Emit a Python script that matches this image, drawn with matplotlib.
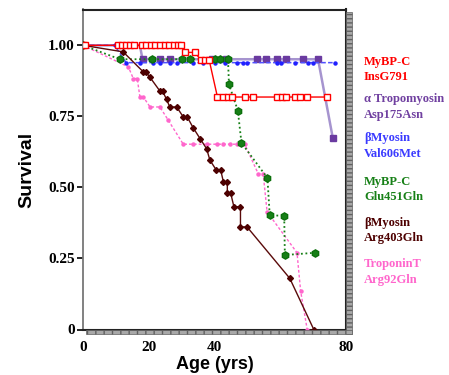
import matplotlib
matplotlib.use('Agg')
import matplotlib.pyplot as plt
from matplotlib.patches import Rectangle

# survival curves (age in yrs, fraction surviving)
ins_x = [0, 0.7, 10.6, 11.8, 13.0, 14.2, 15.5, 18.0, 19.3, 20.6, 22.0, 23.4, 24.8, 26.2, 27.6, 29.0, 29.8,
         31.1, 34.0, 36.0, 37.2, 38.4, 40.9, 42.5, 44.1, 45.3, 49.2, 51.8, 58.9, 60.4, 61.9, 64.4, 66.0, 68.0, 74.1, 75.0]
ins_y = [1.0, 1.0, 1.0, 1.0, 1.0, 1.0, 1.0, 1.0, 1.0, 1.0, 1.0, 1.0, 1.0, 1.0, 1.0, 1.0, 1.0,
         0.975, 0.975, 0.947, 0.947, 0.947, 0.818, 0.818, 0.818, 0.818, 0.818, 0.818, 0.818, 0.818, 0.818,
         0.818, 0.818, 0.818, 0.818, 0.818]
ins_mark = [1, 1, 1, 1, 1, 1, 1, 1, 1, 1, 1, 1, 1, 1, 1, 1, 1, 1, 1, 1, 1, 1, 1, 1, 1, 1, 1, 1, 1, 1, 1, 1, 1, 1, 1, 0]

tpm_x = [0, 17.3, 18.1, 23.4, 26.4, 39.2, 43.5, 52.8, 55.8, 58.9, 61.9, 66.8, 71.5, 76.0]
tpm_y = [1.0, 1.0, 0.951, 0.951, 0.951, 0.951, 0.951, 0.951, 0.951, 0.951, 0.951, 0.951, 0.951, 0.673]

val_x = [0, 9.6, 13.1, 17.3, 21.3, 23.4, 26.4, 28.6, 33.4, 36.5, 40.1, 43.2, 46.8, 48.6, 49.8, 59.0,
         60.2, 64.4, 68.4, 69.9, 76.6]
val_y = [1.0, 1.0] + [0.939] * 19

glu_x = [0, 11.2, 21.0, 30.1, 32.5, 40.1, 41.6, 44.1, 44.4, 47.1, 48.2, 56.1, 56.8, 61.2, 61.4, 70.5]
glu_y = [1.0, 0.951, 0.951, 0.951, 0.951, 0.951, 0.951, 0.951, 0.863, 0.77, 0.657, 0.533, 0.402, 0.40,
         0.262, 0.27]

arg403_x = [0, 12.2, 18.3, 19.1, 20.4, 23.4, 24.2, 25.4, 26.4, 28.5, 30.5, 31.7, 33.5, 35.6, 37.6, 38.6,
            40.6, 41.9, 42.7, 43.9, 43.9, 44.9, 45.9, 47.9, 47.9, 49.9, 62.9, 70.2]
arg403_y = [1.0, 0.977, 0.907, 0.907, 0.887, 0.839, 0.839, 0.81, 0.783, 0.783, 0.748, 0.748, 0.71, 0.672,
            0.636, 0.596, 0.56, 0.56, 0.52, 0.52, 0.481, 0.481, 0.432, 0.432, 0.361, 0.361, 0.18, 0.0]

tnt_x = [0, 13.8, 15.3, 16.5, 17.3, 18.3, 20.4, 23.4, 25.9, 30.5, 33.4, 37.7, 40.7, 42.6, 44.7, 46.8, 49.2,
         53.3, 54.8, 56.0, 65.1, 66.2, 68.2]
tnt_y = [1.0, 0.924, 0.883, 0.883, 0.819, 0.819, 0.783, 0.783, 0.737, 0.652, 0.652, 0.652, 0.652, 0.652,
         0.652, 0.652, 0.652, 0.548, 0.548, 0.414, 0.27, 0.135, 0.0]

legend_lines = [('MyBP-C', 'InsG791', '#ff0000'),
                ('\u03b1 Tropomyosin', 'Asp175Asn', '#7040a0'),
                ('\u03b2Myosin', 'Val606Met', '#3b3bff'),
                ('MyBP-C', 'Glu451Gln', '#178017'),
                ('\u03b2Myosin', 'Arg403Gln', '#4d0000'),
                ('TroponinT', 'Arg92Gln', '#ff66cc')]
legend_y = [61.7, 99.3, 138.3, 181.7, 222.7, 264.0]

W, H = 449, 375
fig = plt.figure(figsize=(W / 100, H / 100), dpi=100)
ax = fig.add_axes([83 / W, 1 - 329.5 / H, (346 - 83) / W, (329.5 - 9.5) / H])

# drop shadow on the right and bottom of the box
fig.patches.append(Rectangle((346 / W, 1 - 334 / H), 6 / W, (334 - 12) / H, transform=fig.transFigure,
                             facecolor='#a8a8a8', edgecolor='#606060', hatch='----', lw=0.5, zorder=0))
fig.patches.append(Rectangle((86 / W, 1 - 334 / H), 266 / W, 4.5 / H, transform=fig.transFigure,
                             facecolor='#a8a8a8', edgecolor='#606060', hatch='||', lw=0.5, zorder=0))

ax.plot(tnt_x, tnt_y, ls=(0, (2, 1.5)), color='#ff66cc', lw=1, marker='o', ms=2.2, mec='#ff66cc', zorder=3)
ax.plot(glu_x, glu_y, ls=(0, (1, 1.5)), color='#178017', lw=1.3, marker='h', ms=5.2, mec='#0b700b',
        mfc='#178017', zorder=4)
ax.plot(tpm_x, tpm_y, '-', color='#a694cf', lw=1.8, zorder=2)
ax.plot(tpm_x[2:], tpm_y[2:], 's', color='#6a3aa0', ms=4.2, zorder=3, ls='none')
ax.plot(val_x, val_y, ls=(0, (3, 1.5)), color='#5050ff', lw=1.1, marker='o', ms=2.2, mfc='#2020ff',
        mec='#2020ff', zorder=3)
ax.plot(arg403_x, arg403_y, '-', color='#5a0a0a', lw=1, marker='D', ms=3, mfc='#4d0000', mec='#4d0000',
        zorder=4)
ax.plot(ins_x, ins_y, '-', color='#ff0000', lw=1, zorder=5)
ax.plot([x for x, m in zip(ins_x, ins_mark) if m], [y for y, m in zip(ins_y, ins_mark) if m], 's',
        mfc='white', mec='#ff0000', ms=4.6, mew=1.0, zorder=5)

ax.set_xlim(0, 80)
ax.set_ylim(0, 1.126)
ax.set_xticks([0, 20, 40, 60, 80])
ax.set_xticklabels(['0', '20', '40', '', '80'])
ax.set_yticks([0, 0.25, 0.5, 0.75, 1.0])
ax.set_yticklabels(['0', '0.25', '0.50', '0.75', '1.00'])
ax.tick_params(axis='y', length=4, width=1.2, direction='out', pad=2)
ax.tick_params(axis='x', length=0, pad=8)
for lab in ax.get_xticklabels() + ax.get_yticklabels():
    lab.set_family('Liberation Serif')
    lab.set_fontweight('bold')
    lab.set_fontsize(11)

ax.spines['left'].set_color('#777777')
ax.spines['left'].set_linewidth(1.3)
for s in ['top', 'right', 'bottom']:
    ax.spines[s].set_color('#222222')
    ax.spines[s].set_linewidth(1.5)

ax.set_xlabel('Age (yrs)', family='Liberation Sans', fontweight='bold', fontsize=13, labelpad=2)
ax.set_ylabel('Survival', family='Liberation Sans', fontweight='bold', fontsize=14, labelpad=9)

for (l1, l2, c), y in zip(legend_lines, legend_y):
    fig.text(364 / W, 1 - y / H, l1, color=c, family='Liberation Serif', fontweight='bold', fontsize=9,
             va='center', ha='left')
    fig.text(364 / W, 1 - (y + 15.5) / H, l2, color=c, family='Liberation Serif', fontweight='bold',
             fontsize=9, va='center', ha='left')

fig.savefig('out.png', dpi=100)
